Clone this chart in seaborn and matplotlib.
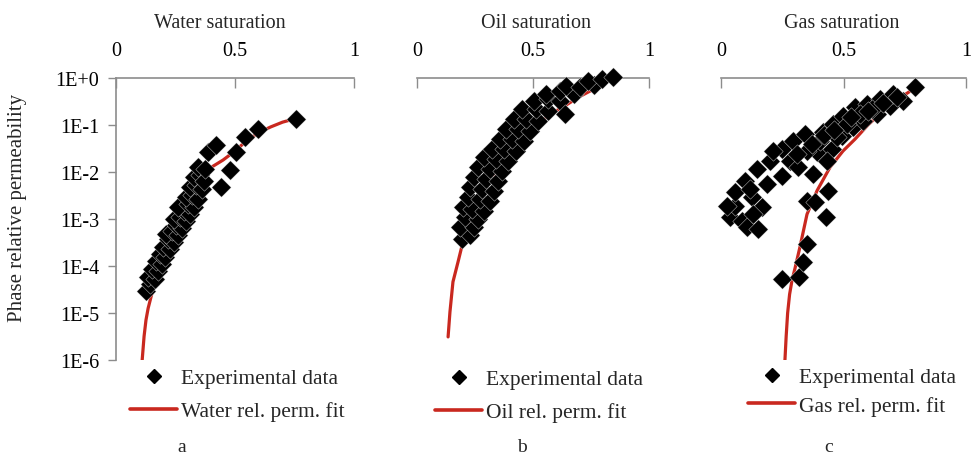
import numpy as np
import pandas as pd
import matplotlib
matplotlib.use("Agg")
import matplotlib.pyplot as plt
from matplotlib.lines import Line2D
import seaborn as sns

# ---------------- data ----------------
water_exp_s = [0.126, 0.143, 0.134, 0.164, 0.151, 0.176, 0.168, 0.193, 0.185, 0.206,
               0.197, 0.227, 0.218, 0.244, 0.210, 0.235, 0.261, 0.252, 0.277, 0.244,
               0.269, 0.294, 0.286, 0.311, 0.261, 0.303, 0.328, 0.294, 0.319, 0.345,
               0.311, 0.336, 0.361, 0.328, 0.353, 0.370, 0.345, 0.374, 0.387, 0.420,
               0.441, 0.479, 0.504, 0.542, 0.597, 0.756]
water_exp_kr = [2.95e-5, 4.2e-5, 5.9e-5, 5.2e-5, 8.7e-5, 7.8e-5, 1.3e-4, 1.1e-4, 1.8e-4, 1.55e-4,
                2.5e-4, 2.3e-4, 3.7e-4, 3.2e-4, 4.8e-4, 5.5e-4, 4.6e-4, 7.4e-4, 6.5e-4, 1.0e-3,
                1.1e-3, 9.1e-4, 1.5e-3, 1.3e-3, 1.8e-3, 2.1e-3, 1.8e-3, 2.95e-3, 3.2e-3, 2.7e-3,
                4.8e-3, 5.2e-3, 4.4e-3, 7.8e-3, 8.7e-3, 6.5e-3, 1.3e-2, 1.15e-2, 2.7e-2, 3.7e-2,
                4.8e-3, 1.1e-2, 2.7e-2, 5.5e-2, 8.1e-2, 0.135]
water_fit_s = [0.110, 0.118, 0.126, 0.135, 0.150, 0.175, 0.200, 0.250, 0.300, 0.350,
               0.390, 0.450, 0.500, 0.550, 0.600, 0.650, 0.700, 0.756]
water_fit_kr = [1.0e-6, 3.2e-6, 7.1e-6, 1.26e-5, 2.5e-5, 1.12e-4, 3.5e-4, 1.26e-3, 3.2e-3, 6.6e-3,
                1.17e-2, 1.8e-2, 2.8e-2, 4.7e-2, 6.9e-2, 9.1e-2, 0.115, 0.138]

oil_exp_s = [0.194, 0.228, 0.185, 0.246, 0.207, 0.263, 0.198, 0.237, 0.289, 0.220,
             0.272, 0.315, 0.228, 0.280, 0.332, 0.246, 0.297, 0.349, 0.263, 0.315,
             0.366, 0.289, 0.341, 0.392, 0.323, 0.375, 0.427, 0.358, 0.409, 0.461,
             0.384, 0.435, 0.487, 0.418, 0.470, 0.522, 0.453, 0.513, 0.565, 0.504,
             0.565, 0.616, 0.556, 0.616, 0.677, 0.642, 0.703, 0.763, 0.737, 0.797,
             0.845, 0.638]
oil_exp_kr = [3.7e-4, 4.6e-4, 6.8e-4, 6.8e-4, 1.1e-3, 1.0e-3, 1.8e-3, 1.6e-3, 1.5e-3, 2.95e-3,
              2.7e-3, 2.4e-3, 4.8e-3, 4.4e-3, 4.0e-3, 7.8e-3, 7.1e-3, 6.5e-3, 1.3e-2, 1.15e-2,
              1.05e-2, 2.1e-2, 1.9e-2, 1.7e-2, 3.1e-2, 3.1e-2, 2.8e-2, 5.0e-2, 5.0e-2, 4.6e-2,
              8.1e-2, 8.1e-2, 7.4e-2, 0.135, 0.135, 0.123, 0.219, 0.219, 0.20, 0.324,
              0.355, 0.324, 0.457, 0.525, 0.457, 0.676, 0.645, 0.71, 0.87, 0.95,
              1.05, 0.17]
oil_fit_s = [0.134, 0.142, 0.155, 0.177, 0.194, 0.220, 0.250, 0.300, 0.350, 0.400,
             0.450, 0.500, 0.550, 0.600, 0.650, 0.700, 0.750, 0.800, 0.845]
oil_fit_kr = [3.1e-6, 1.05e-5, 4.6e-5, 1.23e-4, 2.7e-4, 7.1e-4, 1.6e-3, 5.0e-3, 1.26e-2, 2.6e-2,
              5.0e-2, 8.9e-2, 0.138, 0.20, 0.28, 0.40, 0.54, 0.74, 1.0]

gas_exp_s = [0.249, 0.318, 0.335, 0.351, 0.429, 0.351, 0.384, 0.437,
             0.037, 0.057, 0.086, 0.106, 0.151, 0.057, 0.098, 0.127, 0.167, 0.147, 0.188, 0.200,
             0.249, 0.249, 0.294, 0.282, 0.314, 0.343, 0.376, 0.392, 0.416, 0.453, 0.457, 0.494,
             0.498, 0.539, 0.547, 0.580, 0.596, 0.637, 0.649, 0.690, 0.702, 0.743, 0.792,
             0.404, 0.473, 0.514, 0.567, 0.616, 0.351, 0.433, 0.310, 0.212, 0.118, 0.024, 0.131,
             0.370, 0.420, 0.460, 0.530, 0.600, 0.660, 0.720]
gas_exp_kr = [5.2e-5, 5.9e-5, 1.23e-4, 2.95e-4, 1.1e-3, 2.4e-3, 2.3e-3, 4.0e-3,
              1.1e-3, 1.9e-3, 9.1e-4, 6.8e-4, 6.2e-4, 3.7e-3, 6.5e-3, 2.95e-3, 1.8e-3, 1.15e-2, 5.5e-3, 1.7e-2,
              8.1e-3, 3.1e-2, 4.6e-2, 1.7e-2, 1.3e-2, 6.5e-2, 9.1e-3, 2.7e-2, 7.1e-2, 3.1e-2, 0.105, 5.9e-2,
              0.155, 9.1e-2, 0.24, 0.123, 0.28, 0.17, 0.355, 0.25, 0.457, 0.324, 0.646,
              4.6e-2, 5.5e-2, 0.105, 0.17, 0.219, 2.8e-2, 1.7e-2, 2.4e-2, 2.8e-2, 4.4e-3, 1.9e-3, 1.3e-3,
              4.0e-2, 6.0e-2, 8.0e-2, 0.15, 0.20, 0.30, 0.40]
gas_fit_s = [0.261, 0.266, 0.272, 0.280, 0.290, 0.302, 0.322, 0.351, 0.392, 0.445,
             0.498, 0.547, 0.600, 0.657, 0.710, 0.771, 0.792]
gas_fit_kr = [1.0e-6, 3.2e-6, 1.0e-5, 2.5e-5, 5.0e-5, 8.9e-5, 2.5e-4, 1.26e-3, 4.0e-3, 1.26e-2,
              2.8e-2, 5.0e-2, 0.10, 0.19, 0.32, 0.52, 0.65]

titles = ["Water saturation", "Oil saturation", "Gas saturation"]
fit_labels = ["Water rel. perm. fit", "Oil rel. perm. fit", "Gas rel. perm. fit"]
exp_label = "Experimental data"
panel_letters = ["a", "b", "c"]
x_ticks = [0, 0.5, 1]
x_tick_labels = ["0", "0.5", "1"]
y_ticks = [1e0, 1e-1, 1e-2, 1e-3, 1e-4, 1e-5, 1e-6]
y_tick_labels = ["1E+0", "1E-1", "1E-2", "1E-3", "1E-4", "1E-5", "1E-6"]
y_label = "Phase relative permeability"

# ---------------- style ----------------
sns.set_theme(style="white")
plt.rcParams["font.family"] = ["Liberation Serif", "DejaVu Serif"]
plt.rcParams["axes.unicode_minus"] = False

RED = "#C9281F"
GRAY = "#8C8C8C"
W, H = 971, 460
fig = plt.figure(figsize=(W / 100, H / 100), dpi=100)


def fx(px):
    return px / W


def fy(py):
    return 1 - py / H


axes_px = [(116, 354), (417, 649), (721, 966)]
top_px, bot_px = 79, 361
title_px = [220, 536, 842]
legend_px = [(130, 369, 0.62), (435, 370, 0.62), (748, 368, 0.40)]
letter_px = [182, 522, 829]
FS_TICK = 14.5
FS_TITLE = 14.5
FS_LEG = 15.5

datasets = [
    (water_exp_s, water_exp_kr, water_fit_s, water_fit_kr),
    (oil_exp_s, oil_exp_kr, oil_fit_s, oil_fit_kr),
    (gas_exp_s, gas_exp_kr, gas_fit_s, gas_fit_kr),
]

for i, (es, ek, fs, fk) in enumerate(datasets):
    l, r = axes_px[i]
    ax = fig.add_axes([fx(l), fy(bot_px), (r - l) / W, (bot_px - top_px) / H])
    exp_df = pd.DataFrame({"S": es, "kr": ek})
    fit_df = pd.DataFrame({"S": fs, "kr": fk})
    sns.lineplot(data=fit_df, x="S", y="kr", ax=ax, color=RED, linewidth=2.3,
                 sort=False, zorder=2, estimator=None)
    sns.scatterplot(data=exp_df, x="S", y="kr", ax=ax, marker="D", s=98, color="black",
                    edgecolor="white", linewidth=0.25, zorder=3, clip_on=False)
    ax.set_yscale("log")
    ax.set_xlim(0, 1)
    ax.set_ylim(1e-6, 1)
    ax.set_xlabel("")
    ax.set_ylabel("")
    ax.xaxis.tick_top()
    ax.set_xticks(x_ticks)
    ax.set_xticklabels(x_tick_labels)
    ax.tick_params(axis="x", which="major", direction="in", length=7, width=1,
                   color=GRAY, pad=13, labelsize=FS_TICK, labelcolor="black",
                   top=True, bottom=False)
    ax.minorticks_off()
    for side in ["right", "bottom"]:
        ax.spines[side].set_visible(False)
    ax.spines["top"].set_color(GRAY)
    ax.spines["top"].set_linewidth(1.2)
    if i == 0:
        ax.spines["left"].set_color(GRAY)
        ax.spines["left"].set_linewidth(1.2)
        ax.set_yticks(y_ticks)
        ax.set_yticklabels(y_tick_labels)
        ax.tick_params(axis="y", which="major", direction="out", length=6, width=1,
                       color=GRAY, pad=6, labelsize=FS_TICK, labelcolor="black", left=True)
        ax.tick_params(axis="y", which="minor", left=False)
    else:
        ax.spines["left"].set_visible(False)
        ax.set_yticks([])
        ax.tick_params(axis="y", which="both", left=False, labelleft=False)
    ax.set_facecolor("none")
    ax.grid(False)

    fig.text(fx(title_px[i]), fy(24), titles[i], ha="center", va="center", fontsize=FS_TITLE)

    handles = [Line2D([], [], marker="D", color="black", linestyle="none", markersize=6.8),
               Line2D([], [], color=RED, linewidth=2.6)]
    lx, ly, lsp = legend_px[i]
    ax.legend(handles, [exp_label, fit_labels[i]], loc="upper left",
              bbox_to_anchor=(fx(lx), fy(ly)), bbox_transform=fig.transFigure,
              frameon=False, borderpad=0, borderaxespad=0, handlelength=2.2,
              handletextpad=0.15, labelspacing=lsp, fontsize=FS_LEG)

    fig.text(fx(letter_px[i]), fy(448), panel_letters[i], ha="center", va="center", fontsize=14)

fig.text(fx(18), fy(208), y_label, rotation=90, ha="center", va="center", fontsize=15)

fig.savefig("out.png", dpi=100)
